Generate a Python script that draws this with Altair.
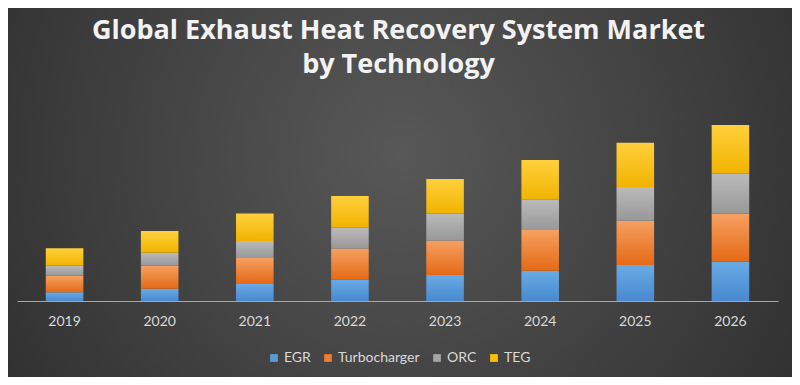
import altair as alt
import pandas as pd

years = ["2019", "2020", "2021", "2022", "2023", "2024", "2025", "2026"]
techs = ["EGR", "Turbocharger", "ORC", "TEG"]
egr = [8.7, 12.3, 17.7, 21.4, 26.0, 30.3, 36.0, 39.3]
turbo = [16.6, 23.0, 25.3, 31.0, 34.6, 40.7, 44.3, 48.0]
orc = [10.0, 13.0, 17.0, 21.0, 27.0, 30.3, 33.7, 40.0]
teg = [17.4, 21.7, 27.4, 31.6, 34.4, 39.7, 44.3, 48.7]
series = {"EGR": egr, "Turbocharger": turbo, "ORC": orc, "TEG": teg}
title_lines = ["Global Exhaust Heat Recovery System Market", "by Technology"]

base_colors = ["#5B9BD5", "#ED7D31", "#A5A5A5", "#FFC000"]
grad_colors = {
    "EGR": ("#6aaae4", "#4889cf"),
    "Turbocharger": ("#f6a061", "#e46a16"),
    "ORC": ("#bababa", "#989898"),
    "TEG": ("#ffd03c", "#f1b300"),
}

rows = []
for i, y in enumerate(years):
    for k, t in enumerate(techs):
        rows.append({"year": y, "tech": t, "value": series[t][i], "order": k})
df = pd.DataFrame(rows)

W, H = 761, 201
PAD_L, PAD_T = 9, 92
TOTAL_W, TOTAL_H = 784, 369

x_enc = alt.X(
    "year:O",
    sort=years,
    scale=alt.Scale(paddingInner=0.605, paddingOuter=0.3025),
    axis=alt.Axis(
        title=None,
        labelAngle=0,
        labelColor="#d9d9d9",
        labelFont="Lato",
        labelFontSize=14,
        labelPadding=13,
        ticks=False,
        domainColor="#a6a6a6",
        domainWidth=1,
        grid=False,
        zindex=2,
    ),
)
y_scale = alt.Scale(domain=[0, H])

bg = alt.Chart(pd.DataFrame({"a": [0]})).mark_rect(
    fill=alt.RadialGradient(
        gradient="radial",
        stops=[
            alt.GradientStop(offset=0, color="#585858"),
            alt.GradientStop(offset=1, color="#262626"),
        ],
        x1=0.5, y1=0.45, r1=0, x2=0.5, y2=0.45, r2=0.75,
    )
).encode(
    x=alt.value(-PAD_L),
    x2=alt.value(TOTAL_W - PAD_L),
    y=alt.value(-PAD_T),
    y2=alt.value(TOTAL_H - PAD_T),
)

base = alt.Chart(df).transform_stack(
    stack="value",
    groupby=["year"],
    as_=["y0", "y1"],
    sort=[alt.SortField("order", order="ascending")],
)

bar_layers = []
for t in techs:
    top, bot = grad_colors[t]
    bar_layers.append(
        base.transform_filter(alt.datum.tech == t)
        .mark_bar(
            fill=alt.LinearGradient(
                gradient="linear",
                stops=[
                    alt.GradientStop(offset=0, color=top),
                    alt.GradientStop(offset=1, color=bot),
                ],
                x1=0, x2=0, y1=0, y2=1,
            )
        )
        .encode(
            x=x_enc,
            y=alt.Y("y1:Q", scale=y_scale, axis=None),
            y2="y0:Q",
        )
    )

legend_layer = alt.Chart(df).mark_square(size=0, opacity=0).encode(
    x=x_enc,
    y=alt.Y("value:Q", scale=y_scale, axis=None),
    color=alt.Color(
        "tech:N",
        scale=alt.Scale(domain=techs, range=base_colors),
        legend=alt.Legend(
            title=None,
            orient="none",
            direction="horizontal",
            legendX=250,
            legendY=251,
            symbolType="square",
            symbolSize=60,
            symbolOpacity=1,
            symbolStrokeWidth=0,
            labelColor="#d9d9d9",
            labelFont="Lato",
            labelFontSize=14,
            labelOffset=3,
            columnPadding=10,
            zindex=2,
        ),
    ),
)

title_layer = alt.Chart(pd.DataFrame({"a": [0]})).mark_text(
    text="\n".join(title_lines),
    lineBreak="\n",
    font="Open Sans",
    fontWeight="bold",
    fontSize=27,
    lineHeight=34,
    color="#f2f2f2",
    align="center",
    baseline="top",
).encode(x=alt.value(W / 2 + 1), y=alt.value(-PAD_T + 10))

chart = alt.layer(bg, *bar_layers, legend_layer, title_layer).properties(
    width=W,
    height=H,
    autosize=alt.AutoSizeParams(type="none"),
    padding={"left": PAD_L, "top": PAD_T, "right": TOTAL_W - PAD_L - W, "bottom": TOTAL_H - PAD_T - H},
).configure_view(stroke=None).configure(background="#2b2b2b")

chart.save("out.html", embed_options={"renderer": "svg", "actions": False})
